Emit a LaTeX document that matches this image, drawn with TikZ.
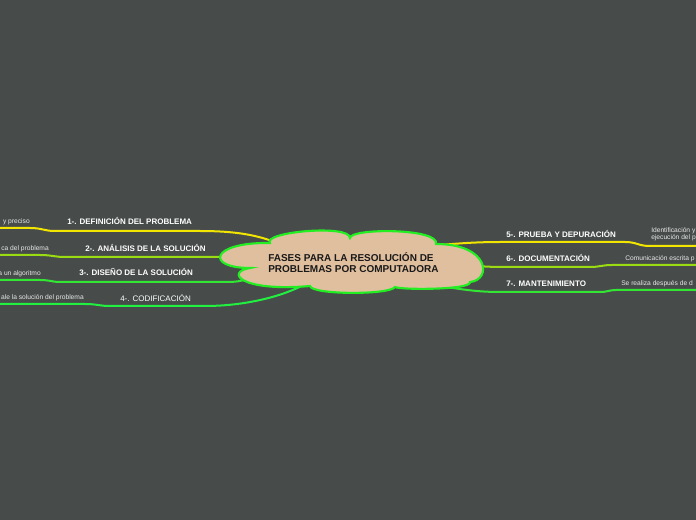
\documentclass[tikz,border=0pt]{standalone}
\usepackage{fontspec}
\setmainfont{Liberation Sans}
\definecolor{bg}{HTML}{474C4B}
\definecolor{cloudfill}{HTML}{E0BF9F}
\definecolor{cloudline}{HTML}{22EE22}
\definecolor{lyellow}{HTML}{F2E600}
\definecolor{lygreen}{HTML}{9ADB12}
\definecolor{lgreen}{HTML}{33E633}
\definecolor{lbright}{HTML}{22F040}
\definecolor{subtext}{HTML}{E8E8E8}
\tikzset{
  branch/.style={line width=1.5pt},
  mainlbl/.style={inner sep=0pt, anchor=base west, text=white, font=\fontsize{6}{7}\selectfont\bfseries},
  mainreg/.style={inner sep=0pt, anchor=base west, text=white, font=\fontsize{6}{7}\selectfont},
  sublbl/.style={inner sep=0pt, text=subtext, font=\fontsize{5}{6}\selectfont},
}
\begin{document}
\begin{tikzpicture}[x=0.75pt,y=-0.75pt]
\useasboundingbox (0,0) rectangle (696,520);
\fill[bg] (0,0) rectangle (696,520);
\clip (0,0) rectangle (696,520);
% waypoints
\coordinate (a1) at (0,228);   \coordinate (b1) at (30,228);  \coordinate (c1) at (55,231);  \coordinate (d1) at (200,231); \coordinate (e1) at (272,241);
\coordinate (a2) at (0,255);   \coordinate (b2) at (40,255);  \coordinate (c2) at (65,257);  \coordinate (d2) at (228,257);
\coordinate (a3) at (0,280);   \coordinate (b3) at (40,280);  \coordinate (c3) at (60,282);  \coordinate (d3) at (228,282); \coordinate (e3) at (252,278);
\coordinate (a4) at (0,304);   \coordinate (b4) at (85,304);  \coordinate (c4) at (110,306); \coordinate (d4) at (205,306); \coordinate (e4) at (305,284);
\coordinate (a5) at (430,246); \coordinate (b5) at (500,242); \coordinate (c5) at (625,242); \coordinate (d5) at (650,246); \coordinate (e5) at (696,246);
\coordinate (a6) at (468,266); \coordinate (b6) at (500,267); \coordinate (c6) at (590,267); \coordinate (d6) at (612,265); \coordinate (e6) at (696,265);
\coordinate (a7) at (440,286); \coordinate (b7) at (500,292); \coordinate (c7) at (600,292); \coordinate (d7) at (616,290); \coordinate (e7) at (696,290);
% branches
\draw[branch,lyellow] (a1) -- (b1) .. controls (42,228) and (44,231) .. (c1) -- (d1) .. controls (235,231) and (255,235) .. (e1);
\draw[branch,lygreen] (a2) -- (b2) .. controls (52,255) and (54,257) .. (c2) -- (d2);
\draw[branch,lgreen] (a3) -- (b3) .. controls (50,280) and (52,282) .. (c3) -- (d3) .. controls (238,282) and (245,280) .. (e3);
\draw[branch,lbright] (a4) -- (b4) .. controls (97,304) and (99,306) .. (c4) -- (d4) .. controls (250,306) and (288,294) .. (e4);
\draw[branch,lyellow] (a5) .. controls (460,243) and (480,242) .. (b5) -- (c5) .. controls (637,242) and (638,246) .. (d5) -- (e5);
\draw[branch,lygreen] (a6) .. controls (480,266) and (490,267) .. (b6) -- (c6) .. controls (600,267) and (602,265) .. (d6) -- (e6);
\draw[branch,lgreen] (a7) .. controls (465,290) and (480,292) .. (b7) -- (c7) .. controls (608,292) and (609,290) .. (d7) -- (e7);
% cloud
\draw[line width=1.6pt, cloudline, fill=cloudfill]
  (270,243) .. controls (262,232) and (350,224) .. (350,238)
  .. controls (350,228) and (440,228) .. (436,244)
  .. controls (490,244) and (492,280) .. (470,282)
  .. controls (472,290) and (400,290) .. (395,287)
  .. controls (390,295) and (312,295) .. (310,286)
  .. controls (240,292) and (225,272) .. (250,268)
  .. controls (205,268) and (210,242) .. (270,243) -- cycle;
\node[inner sep=0pt, anchor=base west, align=left, text=black!90,
      font=\fontsize{7.5}{8.25}\selectfont\bfseries] (root) at (268,272.5)
  {FASES PARA LA RESOLUCIÓN DE\\PROBLEMAS POR COMPUTADORA};
% main labels
\node[mainlbl] (l1) at (67,225) {1-. DEFINICIÓN DEL PROBLEMA};
\node[mainlbl] (l2) at (85,252) {2-. ANÁLISIS DE LA SOLUCIÓN};
\node[mainlbl] (l3) at (79,276) {3-. DISEÑO DE LA SOLUCIÓN};
\node[mainreg] (l4) at (120,301) {4-. CODIFICACIÓN};
\node[mainlbl] (l5) at (506,237.5) {5-. PRUEBA Y DEPURACIÓN};
\node[mainlbl] (l6) at (506,261.5) {6-. DOCUMENTACIÓN};
\node[mainlbl] (l7) at (506,286.5) {7-. MANTENIMIENTO};
% sub labels (clipped by the border)
\node[sublbl, anchor=base east] (s1) at (30,224) {y preciso};
\node[sublbl, anchor=base east] (s2) at (49,251) {ca del problema};
\node[sublbl, anchor=base east] (s3) at (41,275.5) {a un algoritmo};
\node[sublbl, anchor=base east] (s4) at (84,300) {ale la solución del problema};
\node[sublbl, anchor=base west] (s5a) at (651,233) {Identificación y};
\node[sublbl, anchor=base west] (s5b) at (651,240) {ejecución del p};
\node[sublbl, anchor=base west] (s6) at (625,261) {Comunicación escrita p};
\node[sublbl, anchor=base west] (s7) at (621,285.5) {Se realiza después de d};
\end{tikzpicture}
\end{document}
